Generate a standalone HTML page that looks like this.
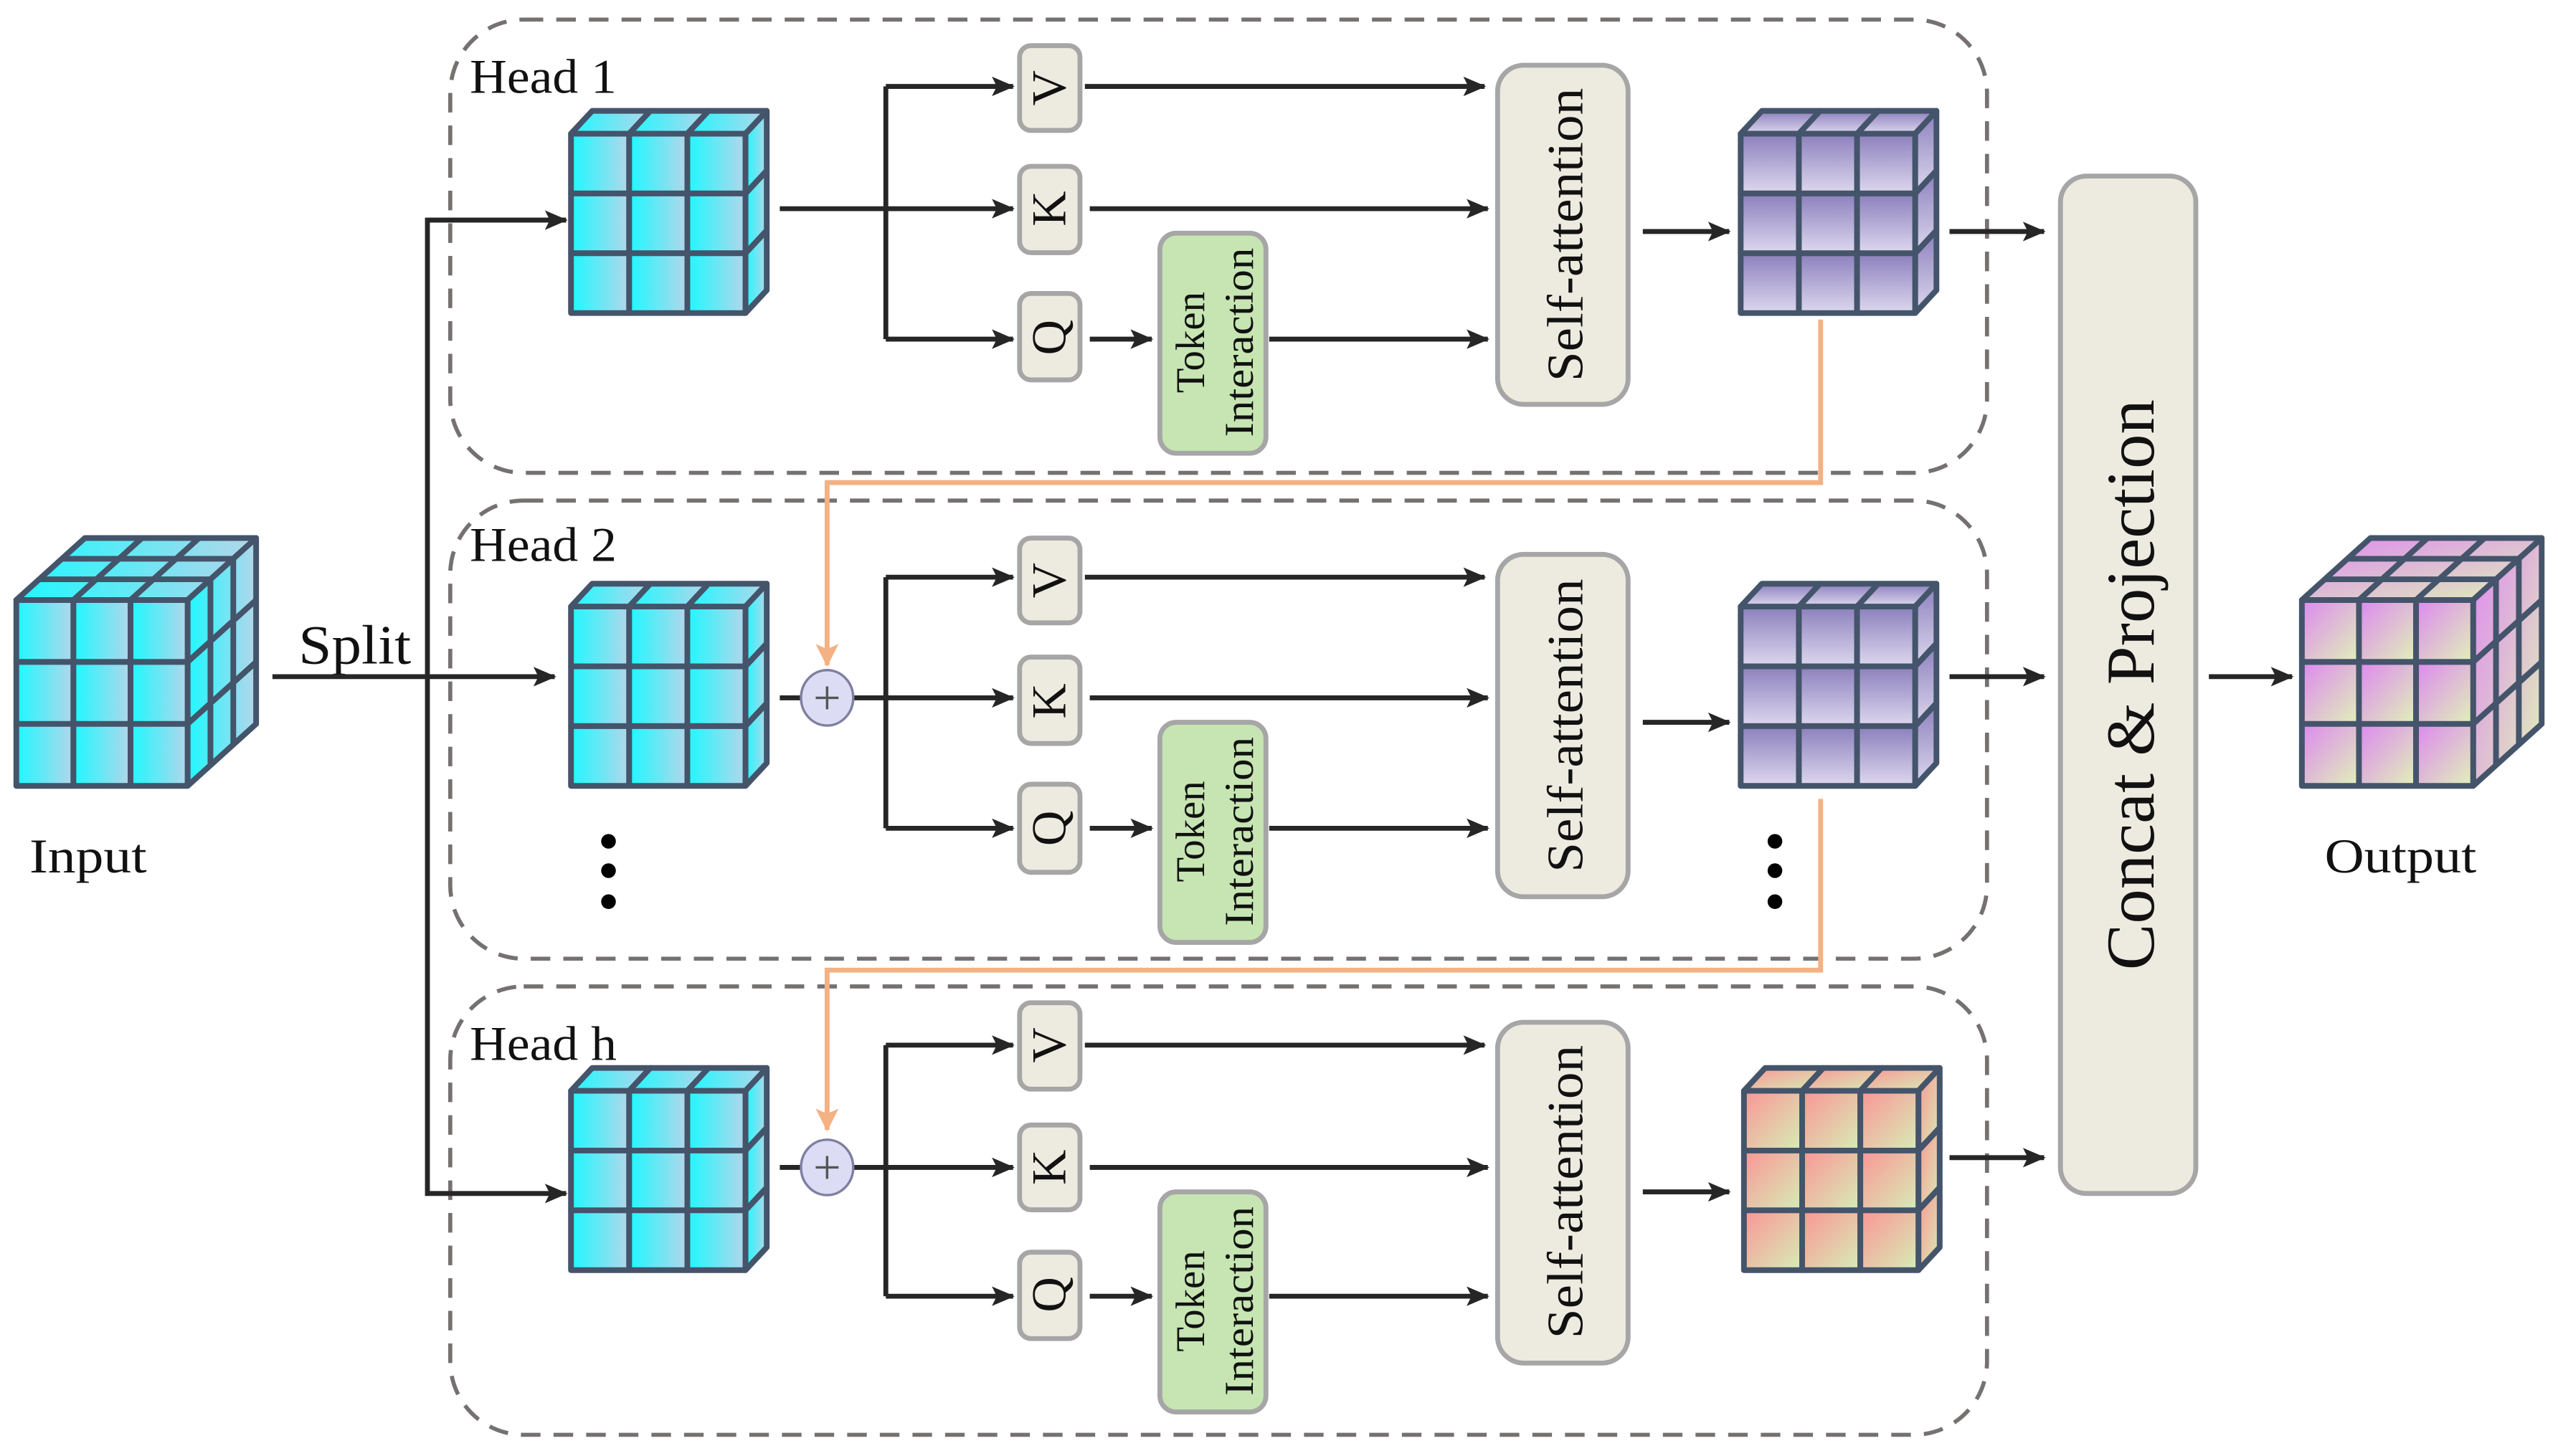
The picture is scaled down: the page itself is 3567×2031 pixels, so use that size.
<!DOCTYPE html>
<html><head><meta charset="utf-8"><style>html,body{margin:0;padding:0;background:#fff}svg{display:block}</style></head>
<body>
<svg width="3567" height="2031" viewBox="0 0 1568 893" preserveAspectRatio="none" xmlns="http://www.w3.org/2000/svg">
<defs>
<linearGradient id="cy" x1="0" y1="0" x2="1" y2="0"><stop offset="0" stop-color="#1ef8ff"/><stop offset="1" stop-color="#b4d6ea"/></linearGradient>
<linearGradient id="pu" x1="0" y1="0" x2="0" y2="1"><stop offset="0" stop-color="#8c7fbd"/><stop offset="1" stop-color="#ddd8ee"/></linearGradient>
<linearGradient id="pe" x1="0" y1="0" x2="1" y2="1"><stop offset="0" stop-color="#fb9595"/><stop offset="1" stop-color="#d6eeb6"/></linearGradient>
<linearGradient id="pk" x1="0" y1="0" x2="1" y2="1"><stop offset="0" stop-color="#dd88f0"/><stop offset="1" stop-color="#e0f2b8"/></linearGradient>
<marker id="ar" markerUnits="userSpaceOnUse" markerWidth="14" markerHeight="14" viewBox="0 0 14 14" refX="13" refY="7" orient="auto"><path d="M0,1 L14,7 L0,13 L3,7 Z" fill="#262626"/></marker>
<marker id="ao" markerUnits="userSpaceOnUse" markerWidth="14" markerHeight="16" viewBox="0 0 14 16" refX="13" refY="8" orient="auto"><path d="M0,1 L14,8 L0,15 L3,8 Z" fill="#f4b183"/></marker>
<symbol id="thin" viewBox="-3 -3 126 130" width="126" height="130" overflow="visible">
<g stroke="#44546a" stroke-width="3.5" stroke-linejoin="round">
<rect x="0" y="14" width="35.67" height="36.67"/><rect x="35.67" y="14" width="35.67" height="36.67"/><rect x="71.33" y="14" width="35.67" height="36.67"/>
<rect x="0" y="50.67" width="35.67" height="36.67"/><rect x="35.67" y="50.67" width="35.67" height="36.67"/><rect x="71.33" y="50.67" width="35.67" height="36.67"/>
<rect x="0" y="87.33" width="35.67" height="36.67"/><rect x="35.67" y="87.33" width="35.67" height="36.67"/><rect x="71.33" y="87.33" width="35.67" height="36.67"/>
<polygon points="0,14 13,0 48.67,0 35.67,14"/><polygon points="35.67,14 48.67,0 84.33,0 71.33,14"/><polygon points="71.33,14 84.33,0 120,0 107,14"/>
<polygon points="107,14 120,0 120,36.67 107,50.67"/><polygon points="107,50.67 120,36.67 120,73.33 107,87.33"/><polygon points="107,87.33 120,73.33 120,110 107,124"/>
</g></symbol>
<symbol id="big" viewBox="-3 -3 153 158" width="153" height="158" overflow="visible">
<g stroke="#44546a" stroke-width="3.5" stroke-linejoin="round">
<polygon points="0,38 42,0 147,0 105,38"/>
<polygon points="105,38 147,0 147,114 105,152"/>
<rect x="0" y="38" width="35" height="38"/><rect x="35" y="38" width="35" height="38"/><rect x="70" y="38" width="35" height="38"/>
<rect x="0" y="76" width="35" height="38"/><rect x="35" y="76" width="35" height="38"/><rect x="70" y="76" width="35" height="38"/>
<rect x="0" y="114" width="35" height="38"/><rect x="35" y="114" width="35" height="38"/><rect x="70" y="114" width="35" height="38"/>
<path fill="none" d="M35,38 L77,0 M70,38 L112,0 M14,25.3 L119,25.3 M28,12.7 L133,12.7 M119,25.3 L119,139.3 M133,12.7 L133,126.7 M105,76 L147,38 M105,114 L147,76"/>
</g></symbol>
</defs>

<g fill="none" stroke="#767171" stroke-width="2.5" stroke-dasharray="12 8">
<rect x="276" y="12" width="942" height="278" rx="45"/>
<rect x="276" y="307" width="942" height="281" rx="45"/>
<rect x="276" y="605" width="942" height="275" rx="45"/>
</g>

<g font-family="Liberation Serif, serif" fill="#111">
<text x="288" y="57" font-size="30" textLength="90" lengthAdjust="spacingAndGlyphs">Head 1</text>
<text x="288" y="344" font-size="30" textLength="90" lengthAdjust="spacingAndGlyphs">Head 2</text>
<text x="288" y="650" font-size="30" textLength="90" lengthAdjust="spacingAndGlyphs">Head h</text>
<text x="183" y="407" font-size="34" textLength="69" lengthAdjust="spacingAndGlyphs">Split</text>
<text x="18" y="535" font-size="30" textLength="72" lengthAdjust="spacingAndGlyphs">Input</text>
<text x="1425" y="535" font-size="30" textLength="93" lengthAdjust="spacingAndGlyphs">Output</text>
</g>

<g stroke="#262626" stroke-width="3" fill="none">
<line x1="167" y1="415" x2="340" y2="415" marker-end="url(#ar)"/>
<polyline points="347,135 262,135 262,732 347,732" marker-end="url(#ar)"/>
<line x1="262" y1="135" x2="347" y2="135" marker-end="url(#ar)"/>
</g>

<use href="#big" x="7" y="327" fill="url(#cy)"/>
<use href="#big" x="1408" y="327" fill="url(#pk)"/>
<use href="#thin" x="347" y="65" fill="url(#cy)"/>
<use href="#thin" x="347" y="355" fill="url(#cy)"/>
<use href="#thin" x="347" y="652" fill="url(#cy)"/>
<use href="#thin" x="1064" y="65" fill="url(#pu)"/>
<use href="#thin" x="1064" y="355" fill="url(#pu)"/>
<use href="#thin" x="1066" y="652" fill="url(#pe)"/>

<g stroke="#f4b183" stroke-width="3" fill="none">
<polyline points="1116,196 1116,296 507,296 507,408" marker-end="url(#ao)"/>
<polyline points="1116,490 1116,595 507,595 507,693" marker-end="url(#ao)"/>
</g>

<g stroke="#262626" stroke-width="3" fill="none">
<line x1="478" y1="128" x2="543" y2="128"/>
<line x1="543" y1="53" x2="543" y2="208"/>
<line x1="543" y1="53" x2="621" y2="53" marker-end="url(#ar)"/>
<line x1="543" y1="128" x2="621" y2="128" marker-end="url(#ar)"/>
<line x1="543" y1="208" x2="621" y2="208" marker-end="url(#ar)"/>
<line x1="665" y1="53" x2="910" y2="53" marker-end="url(#ar)"/>
<line x1="668" y1="128" x2="912" y2="128" marker-end="url(#ar)"/>
<line x1="668" y1="208" x2="706" y2="208" marker-end="url(#ar)"/>
<line x1="778" y1="208" x2="912" y2="208" marker-end="url(#ar)"/>
<line x1="1007" y1="142" x2="1060" y2="142" marker-end="url(#ar)"/>
<line x1="1195" y1="142" x2="1253" y2="142" marker-end="url(#ar)"/>
<line x1="478" y1="428" x2="491" y2="428"/>
<line x1="523" y1="428" x2="543" y2="428"/>
<line x1="543" y1="354" x2="543" y2="508"/>
<line x1="543" y1="354" x2="621" y2="354" marker-end="url(#ar)"/>
<line x1="543" y1="428" x2="621" y2="428" marker-end="url(#ar)"/>
<line x1="543" y1="508" x2="621" y2="508" marker-end="url(#ar)"/>
<line x1="665" y1="354" x2="910" y2="354" marker-end="url(#ar)"/>
<line x1="668" y1="428" x2="912" y2="428" marker-end="url(#ar)"/>
<line x1="668" y1="508" x2="706" y2="508" marker-end="url(#ar)"/>
<line x1="778" y1="508" x2="912" y2="508" marker-end="url(#ar)"/>
<line x1="1007" y1="443" x2="1060" y2="443" marker-end="url(#ar)"/>
<line x1="1195" y1="415" x2="1253" y2="415" marker-end="url(#ar)"/>
<line x1="478" y1="716" x2="491" y2="716"/>
<line x1="523" y1="716" x2="543" y2="716"/>
<line x1="543" y1="641" x2="543" y2="795"/>
<line x1="543" y1="641" x2="621" y2="641" marker-end="url(#ar)"/>
<line x1="543" y1="716" x2="621" y2="716" marker-end="url(#ar)"/>
<line x1="543" y1="795" x2="621" y2="795" marker-end="url(#ar)"/>
<line x1="665" y1="641" x2="910" y2="641" marker-end="url(#ar)"/>
<line x1="668" y1="716" x2="912" y2="716" marker-end="url(#ar)"/>
<line x1="668" y1="795" x2="706" y2="795" marker-end="url(#ar)"/>
<line x1="778" y1="795" x2="912" y2="795" marker-end="url(#ar)"/>
<line x1="1007" y1="731" x2="1060" y2="731" marker-end="url(#ar)"/>
<line x1="1195" y1="710" x2="1253" y2="710" marker-end="url(#ar)"/>
<line x1="1354" y1="415" x2="1405" y2="415" marker-end="url(#ar)"/>
</g>

<g stroke="#7f7fa0" stroke-width="1.5" fill="#dcdcf4">
<ellipse cx="507" cy="428" rx="16" ry="17"/>
<ellipse cx="507" cy="716" rx="16" ry="17"/>
</g>
<g stroke="#555" stroke-width="1.5">
<path d="M500,428 H514 M507,421 V435"/>
<path d="M500,716 H514 M507,709 V723"/>
</g>

<g fill="#edebe0" stroke="#a6a6a6" stroke-width="3">
<rect x="625" y="28" width="37" height="52" rx="7"/><rect x="625" y="102" width="37" height="53" rx="7"/><rect x="625" y="180" width="37" height="53" rx="7"/>
<rect x="625" y="330" width="37" height="52" rx="7"/><rect x="625" y="403" width="37" height="53" rx="7"/><rect x="625" y="481" width="37" height="54" rx="7"/>
<rect x="625" y="615" width="37" height="53" rx="7"/><rect x="625" y="690" width="37" height="52" rx="7"/><rect x="625" y="768" width="37" height="53" rx="7"/>
<rect x="918" y="40" width="80" height="208" rx="16"/>
<rect x="918" y="340" width="80" height="210" rx="16"/>
<rect x="918" y="627" width="80" height="209" rx="16"/>
<rect x="1263" y="108" width="83" height="624" rx="16"/>
</g>
<g fill="#c6e5b3" stroke="#a6a6a6" stroke-width="3">
<rect x="711" y="143" width="65" height="135" rx="10"/>
<rect x="711" y="443" width="65" height="135" rx="10"/>
<rect x="711" y="731" width="65" height="135" rx="10"/>
</g>

<g font-family="Liberation Serif, serif" fill="#111" text-anchor="middle">
<text transform="translate(653,54) rotate(-90)" font-size="30">V</text>
<text transform="translate(653,128) rotate(-90)" font-size="30">K</text>
<text transform="translate(653,207) rotate(-90)" font-size="30">Q</text>
<text transform="translate(653,356) rotate(-90)" font-size="30">V</text>
<text transform="translate(653,430) rotate(-90)" font-size="30">K</text>
<text transform="translate(653,508) rotate(-90)" font-size="30">Q</text>
<text transform="translate(653,641) rotate(-90)" font-size="30">V</text>
<text transform="translate(653,716) rotate(-90)" font-size="30">K</text>
<text transform="translate(653,794) rotate(-90)" font-size="30">Q</text>

<text transform="translate(738,210) rotate(-90)" font-size="25">Token</text>
<text transform="translate(768,210) rotate(-90)" font-size="25" textLength="116" lengthAdjust="spacingAndGlyphs">Interaction</text>
<text transform="translate(738,510) rotate(-90)" font-size="25">Token</text>
<text transform="translate(768,510) rotate(-90)" font-size="25" textLength="116" lengthAdjust="spacingAndGlyphs">Interaction</text>
<text transform="translate(738,798) rotate(-90)" font-size="25">Token</text>
<text transform="translate(768,798) rotate(-90)" font-size="25" textLength="116" lengthAdjust="spacingAndGlyphs">Interaction</text>

<text transform="translate(970,144) rotate(-90)" font-size="31" textLength="180" lengthAdjust="spacingAndGlyphs">Self-attention</text>
<text transform="translate(970,445) rotate(-90)" font-size="31" textLength="180" lengthAdjust="spacingAndGlyphs">Self-attention</text>
<text transform="translate(970,731) rotate(-90)" font-size="31" textLength="180" lengthAdjust="spacingAndGlyphs">Self-attention</text>

<text transform="translate(1320,420) rotate(-90)" font-size="42" textLength="350" lengthAdjust="spacingAndGlyphs">Concat &amp; Projection</text>
</g>

<g fill="#000">
<circle cx="373" cy="516" r="4.5"/><circle cx="373" cy="534" r="4.5"/><circle cx="373" cy="553" r="4.5"/>
<circle cx="1088" cy="516" r="4.5"/><circle cx="1088" cy="534" r="4.5"/><circle cx="1088" cy="553" r="4.5"/>
</g>
</svg>
</body></html>
